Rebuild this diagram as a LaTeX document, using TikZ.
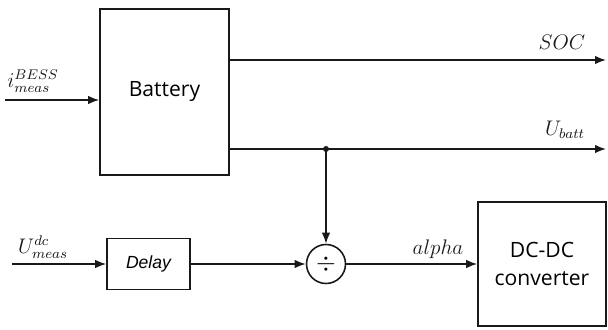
\documentclass[tikz,border=0pt]{standalone}
\usepackage{fontspec}
\usepackage{amsmath}
\setsansfont{Open Sans}
\newfontfamily\arialfont{Liberation Sans}
\usetikzlibrary{arrows.meta, positioning}
\definecolor{mydark}{RGB}{25,25,25}
\tikzset{
  block/.style={rectangle, draw=mydark, fill=white, align=center,
    font=\sffamily\large, line width=0.9pt, inner sep=2pt},
  divnode/.style={circle, draw=mydark, fill=white,
    minimum size=0.78cm, inner sep=0pt, font=\Large, line width=0.9pt},
  arrow/.style={-{Latex[length=2.2mm,width=1.7mm]}, line width=0.9pt, color=mydark},
  line/.style={line width=0.9pt, color=mydark},
  sig/.style={font=\large, color=mydark}
}
\begin{document}
\begin{tikzpicture}[scale=1.0]
  \useasboundingbox (0,0) rectangle (12.16,6.58);

  % Blocks
  \node[block, minimum width=2.58cm, minimum height=3.32cm] (battery) at (3.29,4.74) {Battery};
  \node[block, minimum width=1.66cm, minimum height=1.02cm, font=\arialfont\itshape] (delay) at (2.97,1.3) {Delay};
  \node[divnode] (divider) at (6.52,1.3) {$\div$};
  \node[block, minimum width=2.56cm, minimum height=2.48cm, font=\sffamily] (dcdc) at (10.84,1.3) {\large DC-DC\\[4pt]\large converter};

  % Free ends
  \coordinate (iin) at (0.1,4.58);
  \coordinate (uin) at (0.24,1.3);
  \coordinate (socout) at (12.12,5.38);
  \coordinate (ubout) at (12.12,3.6);
  \coordinate (junction) at (divider |- ubout);

  % Inputs
  \draw[arrow] (iin) -- (iin -| battery.west);
  \node[sig] (ilabel) at (0.66,4.96) {$i_{meas}^{BESS}$};
  \draw[arrow] (uin) -- (delay);
  \node[sig] (ulabel) at (0.86,1.64) {$U_{meas}^{dc}$};

  % Outputs
  \draw[arrow] (socout -| battery.east) -- (socout);
  \node[sig] (soclabel) at (11.24,5.74) {$SOC$};
  \draw[arrow] (ubout -| battery.east) -- (ubout);
  \node[sig] (ublabel) at (11.3,3.98) {$U_{batt}$};

  % Divider path
  \fill[mydark] (junction) circle (0.06);
  \draw[arrow] (junction) -- (divider);
  \draw[arrow] (delay) -- (divider);
  \draw[arrow] (divider) -- (dcdc);
  \node[sig] (alphalabel) at (8.76,1.6) {$alpha$};

\end{tikzpicture}
\end{document}
